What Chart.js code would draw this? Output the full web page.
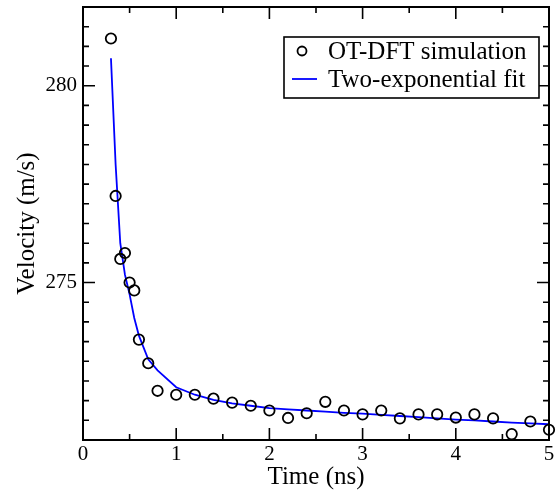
<!DOCTYPE html>
<html>
<head>
<meta charset="utf-8">
<script src="https://cdn.jsdelivr.net/npm/chart.js@4.4.1/dist/chart.umd.min.js"></script>
<style>
  html, body { margin: 0; padding: 0; background: #fff; }
  #wrap { width: 560px; height: 493px; }
</style>
</head>
<body>
<div id="wrap"><canvas id="chart"></canvas></div>
<script>
// Simulation points
const simTime = [0.3, 0.35, 0.4, 0.45, 0.5, 0.55, 0.6, 0.7, 0.8, 1.0, 1.2, 1.4, 1.6, 1.8, 2.0,
  2.2, 2.4, 2.6, 2.8, 3.0, 3.2, 3.4, 3.6, 3.8, 4.0, 4.2, 4.4, 4.6, 4.8, 5.0];
const simVelocity = [281.2, 277.2, 275.6, 275.75, 275.0, 274.8, 273.55, 272.95, 272.25, 272.15,
  272.15, 272.05, 271.95, 271.87, 271.75, 271.56, 271.68, 271.97, 271.75, 271.65, 271.75,
  271.55, 271.65, 271.65, 271.57, 271.65, 271.55, 271.15, 271.47, 271.26];

// Two-exponential fit
const fitTime = [0.3, 0.35, 0.4, 0.45, 0.5, 0.55, 0.6, 0.7, 0.8, 1.0, 1.2, 1.4, 1.6, 1.8, 2.0,
  2.2, 2.4, 2.6, 2.8, 3.0, 3.2, 3.4, 3.6, 3.8, 4.0, 4.2, 4.4, 4.6, 4.8, 5.0];
const fitVelocity = [280.7, 278.0, 276.0, 275.2, 274.7, 274.1, 273.65, 273.05, 272.77, 272.34,
  272.15, 272.02, 271.93, 271.87, 271.81, 271.78, 271.75, 271.72, 271.69, 271.67, 271.64,
  271.61, 271.58, 271.55, 271.52, 271.5, 271.47, 271.44, 271.42, 271.4];

// Axes
const xTicks = [0, 1, 2, 3, 4, 5];
const yTicks = [275, 280];
const xMinorStep = 0.5;
const yMinorStep = 0.5;

const serif = "'Liberation Serif', 'DejaVu Serif', serif";

// frame + inward ticks on all four sides
const frameTicks = {
  id: 'frameTicks',
  afterDatasetsDraw(chart) {
    const { ctx, chartArea: a, scales: { x, y } } = chart;
    ctx.save();
    ctx.strokeStyle = '#000';
    ctx.lineWidth = 1.6;
    ctx.beginPath();
    for (let v = x.min; v <= x.max + 1e-9; v += xMinorStep) {
      const px = x.getPixelForValue(v);
      const len = xTicks.some(t => Math.abs(t - v) < 1e-9) ? 12 : 6;
      ctx.moveTo(px, a.bottom); ctx.lineTo(px, a.bottom - len);
      ctx.moveTo(px, a.top); ctx.lineTo(px, a.top + len);
    }
    for (let v = Math.ceil(y.min / yMinorStep) * yMinorStep; v <= y.max + 1e-9; v += yMinorStep) {
      const py = y.getPixelForValue(v);
      const len = yTicks.some(t => Math.abs(t - v) < 1e-9) ? 12 : 6;
      ctx.moveTo(a.left, py); ctx.lineTo(a.left + len, py);
      ctx.moveTo(a.right, py); ctx.lineTo(a.right - len, py);
    }
    ctx.stroke();
    ctx.lineWidth = 2;
    ctx.strokeRect(a.left, a.top, a.right - a.left, a.bottom - a.top);
    ctx.restore();
  }
};

// boxed legend in the upper right
const boxLegend = {
  id: 'boxLegend',
  afterDraw(chart) {
    const { ctx, chartArea: a } = chart;
    const ds = chart.data.datasets;
    const w = 255, h = 61;
    const left = a.right - 10 - w, top = a.top + 30;
    ctx.save();
    ctx.fillStyle = '#fff';
    ctx.fillRect(left, top, w, h);
    ctx.strokeStyle = '#000';
    ctx.lineWidth = 1.6;
    ctx.strokeRect(left, top, w, h);

    ctx.font = '25px ' + serif;
    ctx.fillStyle = '#000';
    ctx.textBaseline = 'middle';
    ctx.textAlign = 'left';

    // row 1: circle
    const r1 = top + 14;
    ctx.beginPath();
    ctx.lineWidth = 1.8;
    ctx.arc(left + 18, r1, 4.5, 0, Math.PI * 2);
    ctx.stroke();
    ctx.fillText(ds[0].label, left + 44, r1 + 1);

    // row 2: line
    const r2 = top + 42;
    ctx.beginPath();
    ctx.strokeStyle = ds[1].borderColor;
    ctx.lineWidth = 1.8;
    ctx.moveTo(left + 8, r2);
    ctx.lineTo(left + 33, r2);
    ctx.stroke();
    ctx.fillText(ds[1].label, left + 44, r2 + 1);
    ctx.restore();
  }
};

const ctx = document.getElementById('chart').getContext('2d');
new Chart(ctx, {
  type: 'scatter',
  data: {
    datasets: [
      {
        label: 'OT-DFT simulation',
        data: simTime.map((t, i) => ({ x: t, y: simVelocity[i] })),
        showLine: false,
        pointStyle: 'circle',
        pointRadius: 5.2,
        pointBorderWidth: 1.8,
        pointBorderColor: '#000',
        pointBackgroundColor: 'rgba(0,0,0,0)',
        clip: false
      },
      {
        label: 'Two-exponential fit',
        data: fitTime.map((t, i) => ({ x: t, y: fitVelocity[i] })),
        showLine: true,
        borderColor: '#0000ff',
        borderWidth: 1.8,
        pointRadius: 0,
        tension: 0
      }
    ]
  },
  options: {
    responsive: true,
    maintainAspectRatio: false,
    animation: false,
    events: [],
    layout: { padding: { top: 6, right: 11, left: 0, bottom: 0 } },
    plugins: {
      legend: { display: false },
      tooltip: { enabled: false }
    },
    scales: {
      x: {
        type: 'linear',
        min: 0,
        max: 5,
        afterBuildTicks: s => { s.ticks = xTicks.map(v => ({ value: v })); },
        afterFit: s => { s.height = 53; s.paddingLeft = 0; s.paddingRight = 0; },
        grid: { display: false, drawTicks: false },
        border: { display: false },
        ticks: {
          padding: 2,
          color: '#000',
          font: { family: serif, size: 21 }
        },
        title: {
          display: true,
          text: 'Time (ns)',
          color: '#000',
          font: { family: serif, size: 25 },
          padding: { top: 0, bottom: 1 }
        }
      },
      y: {
        type: 'linear',
        min: 271,
        max: 282,
        afterBuildTicks: s => { s.ticks = yTicks.map(v => ({ value: v })); },
        afterFit: s => { s.width = 83; s.paddingTop = 0; s.paddingBottom = 0; },
        grid: { display: false, drawTicks: false },
        border: { display: false },
        ticks: {
          padding: 6,
          color: '#000',
          font: { family: serif, size: 21 }
        },
        title: {
          display: true,
          text: 'Velocity (m/s)',
          color: '#000',
          font: { family: serif, size: 25 },
          padding: { top: 12, bottom: 0 }
        }
      }
    }
  },
  plugins: [frameTicks, boxLegend]
});
</script>
</body>
</html>
